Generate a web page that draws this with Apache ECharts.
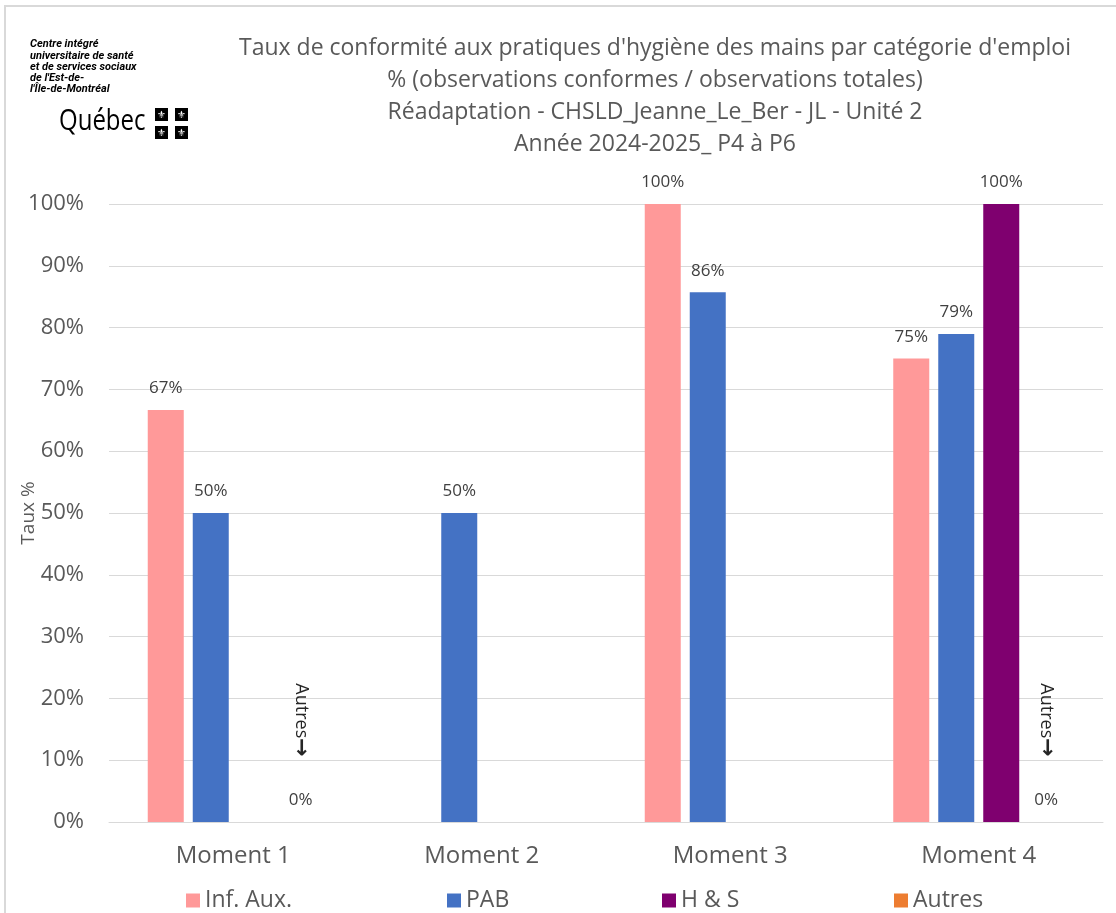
<!DOCTYPE html>
<html>
<head>
<meta charset="utf-8">
<title>Taux de conformité - hygiène des mains</title>
<script src="https://cdn.jsdelivr.net/npm/echarts@6/dist/echarts.min.js"></script>
<style>
    html, body { margin: 0; padding: 0; background: #fff; }
    #chart { width: 1116px; height: 913px; }
</style>
</head>
<body>
<div id="chart"></div>
<script>
// données
var categories = ['Moment 1', 'Moment 2', 'Moment 3', 'Moment 4'];
var infAux = [66.67, null, 100, 75];
var pab = [50, 50, 85.71, 78.95];
var hs = [null, null, null, 100];
var autres = [0, null, null, 0];
var autresNotes = ['Moment 1', 'Moment 4'];   // où la mention "Autres→" apparaît

var titleLines = [
    "Taux de conformité aux pratiques d'hygiène des mains par catégorie d'emploi",
    '% (observations conformes / observations totales)',
    'Réadaptation - CHSLD_Jeanne_Le_Ber - JL - Unité 2',
    'Année 2024-2025_ P4 à P6'
];
var logoLines = [
    'Centre intégré',
    'universitaire de santé',
    'et de services sociaux',
    "de l'Est-de-",
    "l'Île-de-Montréal"
];

var FONT = '"Open Sans", Roboto, sans-serif';
var TEXT = '#595959';

var chart = echarts.init(document.getElementById('chart'));

function pct(p) {
    return Math.round(p.value) + '%';
}

function barSeries(name, data, color) {
    return {
        name: name,
        type: 'bar',
        data: data,
        barWidth: 36,
        barGap: '25%',
        itemStyle: { color: color },
        label: {
            show: true,
            position: 'top',
            distance: 13,
            formatter: pct,
            color: '#404040',
            fontSize: 17,
            fontFamily: FONT
        }
    };
}

var autresSeries = barSeries('Autres', autres, '#ED7D31');
autresSeries.markPoint = {
    symbol: 'rect',
    symbolSize: 1,
    itemStyle: { color: 'rgba(0,0,0,0)' },
    label: {
        show: true,
        position: 'inside',
        rotate: -90,
        formatter: '{a|Autres}{b|\u2192}',
        rich: {
            a: { color: '#262626', fontSize: 18, fontFamily: FONT },
            b: { color: '#262626', fontSize: 22, fontFamily: '"DejaVu Sans"', fontWeight: 'bold' }
        }
    },
    data: autresNotes.map(function (c) {
        return { coord: [c, 16.5] };
    })
};

// petit logo en haut à gauche
var logo = logoLines.map(function (t, i) {
    return {
        type: 'text',
        left: 30, top: 39 + i * 11.3,
        style: { text: t, font: 'italic bold 11px Roboto', fill: '#000' }
    };
});
logo.push({
    type: 'text', x: 59, y: 106, scaleX: 0.8,
    style: { text: 'Québec', font: '30px ' + FONT, fill: '#000' }
});
[[155, 108], [175, 108], [155, 126], [175, 126]].forEach(function (p) {
    logo.push({
        type: 'rect',
        shape: { x: p[0], y: p[1], width: 13, height: 13 },
        style: { fill: '#000' }
    });
    logo.push({
        type: 'text', x: p[0] + 6.5, y: p[1] + 7,
        style: { text: '\u269C', font: '10px "DejaVu Sans"', fill: '#fff', align: 'center', verticalAlign: 'middle' }
    });
});
logo.push({
    type: 'rect',
    shape: { x: 5, y: 6, width: 1300, height: 1200 },
    style: { fill: 'none', stroke: '#d9d9d9', lineWidth: 2 }
});

var legendDefs = [['Inf. Aux.', 181], ['PAB', 442], ['H & S', 657], ['Autres', 889]];

var option = {
    animation: false,
    textStyle: { fontFamily: FONT },
    color: ['#FF9999', '#4472C4', '#7F006F', '#ED7D31'],
    title: {
        text: titleLines.join('\n'),
        left: 650,
        top: 27,
        textAlign: 'center',
        textStyle: {
            fontSize: 23,
            fontWeight: 'normal',
            color: TEXT,
            lineHeight: 32,
            fontFamily: FONT
        }
    },
    legend: legendDefs.map(function (d) {
        return {
            data: [d[0]],
            left: d[1],
            top: 884,
            itemWidth: 14,
            itemHeight: 14,
            itemGap: 5,
            icon: 'rect',
            selectedMode: false,
            textStyle: { fontSize: 23, color: TEXT, fontFamily: FONT, padding: [0, 0, 0, 0] }
        };
    }),
    grid: { left: 109, right: 13, top: 204, bottom: 91, containLabel: false, outerBoundsMode: 'none' },
    xAxis: {
        type: 'category',
        data: categories,
        axisTick: { show: false },
        axisLine: { lineStyle: { color: '#d9d9d9', width: 1 } },
        axisLabel: { fontSize: 24, color: TEXT, margin: 22, fontFamily: FONT }
    },
    yAxis: {
        type: 'value',
        min: 0,
        max: 100,
        interval: 10,
        name: 'Taux %',
        nameLocation: 'middle',
        nameGap: 71,
        nameMoveOverlap: false,
        nameTextStyle: { fontSize: 19, color: TEXT, fontFamily: FONT },
        axisLabel: { formatter: '{value}%', fontSize: 22, color: TEXT, margin: 25, fontFamily: FONT },
        splitLine: { lineStyle: { color: '#d9d9d9', width: 1 } },
        axisLine: { show: false },
        axisTick: { show: false }
    },
    graphic: logo,
    series: [
        barSeries('Inf. Aux.', infAux, '#FF9999'),
        barSeries('PAB', pab, '#4472C4'),
        barSeries('H & S', hs, '#7F006F'),
        autresSeries
    ]
};

chart.setOption(option);
</script>
</body>
</html>
